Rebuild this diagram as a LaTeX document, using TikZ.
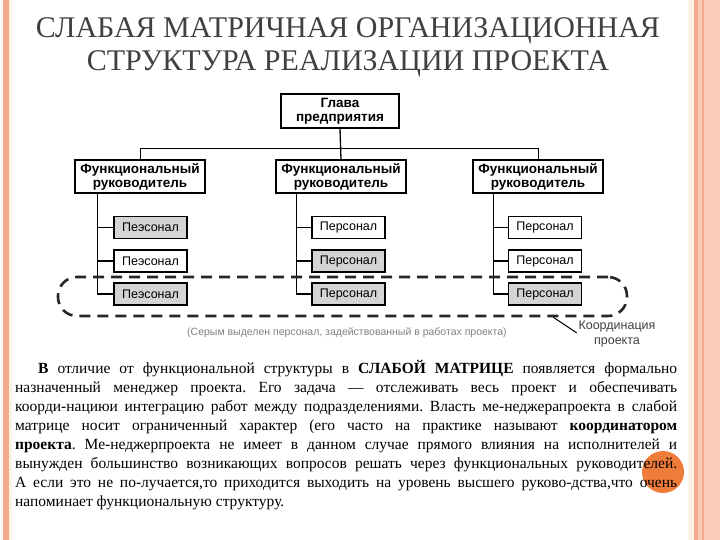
\documentclass[tikz,border=0pt]{standalone}
\usepackage{fontspec}
\setmainfont{Liberation Serif}
\newfontfamily\chartfont{Liberation Sans}
\usetikzlibrary{positioning, calc}
\definecolor{bordersalmon}{RGB}{244,170,140}
\definecolor{borderpeach}{RGB}{251,203,184}
\definecolor{bordercream}{RGB}{253,240,228}
\definecolor{staffgray}{RGB}{212,212,212}
\definecolor{titlegray}{RGB}{64,64,64}
\definecolor{dotorange}{RGB}{240,124,58}

\begin{document}
\begin{tikzpicture}[x=1pt, y=-1pt,
    heading/.style={inner sep=0pt, text=titlegray, font=\fontsize{30}{32}\selectfont},
    chief/.style={rectangle, draw, line width=1.4pt, minimum width=118pt, minimum height=34pt,
                  inner sep=0pt, align=center, font=\chartfont\bfseries\fontsize{13.5}{14}\selectfont},
    manager/.style={chief, minimum width=130pt, minimum height=33pt},
    staff/.style={rectangle, draw, line width=1.1pt, minimum width=73pt, minimum height=22pt,
                  inner sep=0pt, font=\chartfont\fontsize{12.5}{13}\selectfont},
    link/.style={line width=1.3pt},
    coordloop/.style={draw, line width=2.6pt, dash pattern=on 11pt off 7pt, rounded corners=19pt,
                      minimum width=569pt, minimum height=39pt, inner sep=0pt},
    note/.style={inner sep=0pt, text=black!50, font=\chartfont\fontsize{10.5}{12}\selectfont},
    bodytext/.style={inner sep=0pt, text width=662pt, align=justify,
                     font=\fontsize{15.5}{19}\selectfont}
]
\useasboundingbox (0,0) rectangle (720,540);

% Side borders
\fill[bordersalmon] (3,0) rectangle (9,540);
\fill[bordercream] (9,0) rectangle (12,540);
\fill[bordercream] (688,0) rectangle (694,540);
\fill[bordersalmon] (694,0) rectangle (698,540);
\fill[borderpeach] (698,0) rectangle (720,540);
\fill[bordersalmon] (702,0) rectangle (704,540);

% Title
\node[heading] (title1) at (348,31) {СЛАБАЯ МАТРИЧНАЯ ОРГАНИЗАЦИОННАЯ};
\node[heading] (title2) at (348,64) {СТРУКТУРА РЕАЛИЗАЦИИ ПРОЕКТА};

% Managers
\node[chief] (head) at (340,111) {Глава\\предприятия};
\node[manager] (fm1) at (140,176.5) {Функциональный\\руководитель};
\node[manager] (fm2) at (341,176.5) {Функциональный\\руководитель};
\node[manager] (fm3) at (538,176.5) {Функциональный\\руководитель};

\coordinate (bus) at ($(head.south)+(0,20)$);
\draw[link] (head.south) -- (fm2.north);
\draw[line width=1pt] (fm1.north) |- (bus) -| (fm3.north);

% Personnel
\node[staff, fill=staffgray] (p11) at (150.5,227.5) {Пеэсонал};
\node[staff] (p12) at (150.5,261) {Пеэсонал};
\node[staff, fill=staffgray] (p13) at (150.5,294) {Пеэсонал};
\node[staff] (p21) at (348.5,227.5) {Персонал};
\node[staff, fill=staffgray] (p22) at (348.5,261) {Персонал};
\node[staff, fill=staffgray] (p23) at (348.5,294) {Персонал};
\node[staff] (p31) at (545,227.5) {Персонал};
\node[staff] (p32) at (545,261) {Персонал};
\node[staff, fill=staffgray] (p33) at (545,294) {Персонал};

\coordinate (v1) at ($(fm1.south west)+(23,0)$);
\coordinate (v2) at ($(fm2.south west)+(21,0)$);
\coordinate (v3) at ($(fm3.south west)+(21,0)$);
\draw[link] (v1) |- (p13.west);
\draw[link] (p11.west -| v1) -- (p11.west);
\draw[link] (p12.west -| v1) -- (p12.west);
\draw[link] (v2) |- (p23.west);
\draw[link] (p21.west -| v2) -- (p21.west);
\draw[link] (p22.west -| v2) -- (p22.west);
\draw[link] (v3) |- (p33.west);
\draw[link] (p31.west -| v3) -- (p31.west);
\draw[link] (p32.west -| v3) -- (p32.west);

% Coordination loop
\node[coordloop, draw=black!85] (loop) at (342.5,296.5) {};
\node[note] (caption) at (347,333) {(Серым выделен персонал, задействованный в работах проекта)};
\node[note, text=black!75, align=center, font=\chartfont\fontsize{12.5}{15}\selectfont] (coordlabel) at (617,334) {Координация\\проекта};
\coordinate (tip) at ($(loop.south east)+(-75,0)$);
\draw[line width=1pt, shorten >=2pt] (tip) -- (coordlabel.west);

% Text
\fill[dotorange] (663,472) circle (21pt);
\node[bodytext, anchor=north west] (body) at (15,360) {%
\frenchspacing\hyphenpenalty=10000 \exhyphenpenalty=10000
\hspace*{23pt}\textbf{В} отличие от функциональной структуры в \textbf{СЛАБОЙ МАТРИЦЕ} появляется формально\linebreak
назначенный менеджер проекта. Его задача — отслеживать весь проект и обеспечивать\linebreak
коорди-нациюи интеграцию работ между подразделениями. Власть ме-неджерапроекта в слабой\linebreak
матрице носит ограниченный характер (его часто на практике называют \textbf{координатором}\linebreak
\textbf{проекта}. Ме-неджерпроекта не имеет в данном случае прямого влияния на исполнителей и\linebreak
вынужден большинство возникающих вопросов решать через функциональных руководителей.\linebreak
А если это не по-лучается,то приходится выходить на уровень высшего руково-дства,что очень\linebreak
напоминает функциональную структуру.};

\end{tikzpicture}
\end{document}
